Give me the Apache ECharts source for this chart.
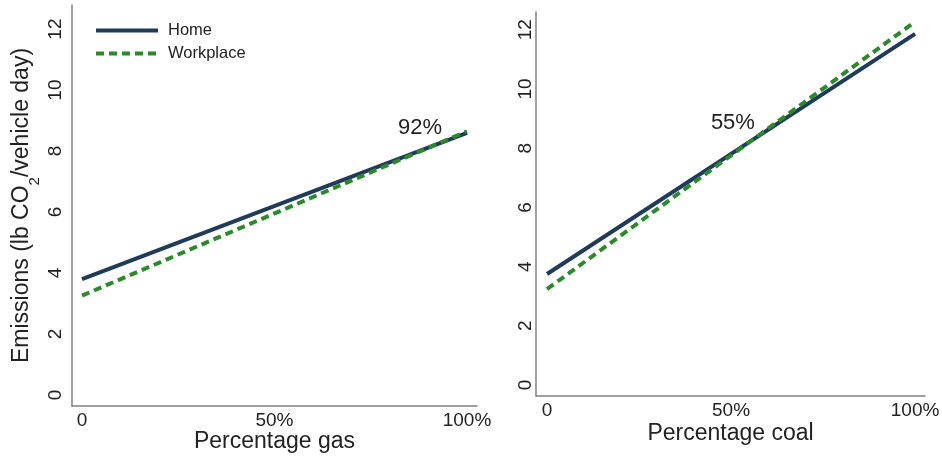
<!DOCTYPE html>
<html>
<head>
<meta charset="utf-8">
<script src="https://cdn.jsdelivr.net/npm/echarts@6/dist/echarts.min.js"></script>
<style>
  html, body { margin: 0; padding: 0; background: #fff; }
  #chart { width: 942px; height: 457px; }
</style>
</head>
<body>
<div id="chart"></div>
<script>
  // shares of gas / coal in the grid mix (x, percent)
  const shareX = [0, 100];
  const xTicks = [0, 50, 100];
  const yTicks = [0, 2, 4, 6, 8, 10, 12];

  // emissions, lb CO2 per vehicle day
  const gasHome = [3.80, 8.60];
  const gasWork = [3.26, 8.65];
  const coalHome = [3.75, 11.86];
  const coalWork = [3.24, 12.27];

  // crossing labels [x, y, text]
  const gasNote = [87.8, 8.75, '92%'];
  const coalNote = [50.5, 8.85, '55%'];

  const FONT = 'Liberation Sans';
  const TXT = '#222';
  const AXIS = '#808080';
  const HOME = '#1f3b5a';
  const WORK = '#2a8a2a';

  const pairs = (xs, ys) => xs.map((x, i) => [x, ys[i]]);

  function xAxis(idx, min, max, name, gap) {
    return {
      type: 'value', gridIndex: idx, min: min, max: max,
      name: name, nameLocation: 'middle', nameGap: gap, nameMoveOverlap: false,
      nameTextStyle: { fontFamily: FONT, fontSize: 23, color: TXT },
      axisLine: { show: true, onZero: false, lineStyle: { color: AXIS, width: 1.5 } },
      axisTick: { show: false },
      splitLine: { show: false },
      axisLabel: {
        customValues: xTicks, margin: 5,
        fontFamily: FONT, fontSize: 19, color: TXT,
        formatter: v => v === 0 ? '0' : v + '%'
      }
    };
  }

  function yAxis(idx, min, max, margin) {
    return {
      type: 'value', gridIndex: idx, min: min, max: max,
      axisLine: { show: true, onZero: false, lineStyle: { color: AXIS, width: 1.5 } },
      axisTick: { show: false },
      splitLine: { show: false },
      axisLabel: {
        customValues: yTicks, rotate: 90, margin: margin,
        fontFamily: FONT, fontSize: 19, color: TXT
      }
    };
  }

  function line(name, idx, ys, color, dashed) {
    return {
      name: name, type: 'line', xAxisIndex: idx, yAxisIndex: idx,
      data: pairs(shareX, ys), symbol: 'none', animation: false,
      lineStyle: { color: color, width: 4, type: dashed ? [8, 5] : 'solid' },
      itemStyle: { color: color }
    };
  }

  function note(idx, n) {
    return {
      type: 'scatter', xAxisIndex: idx, yAxisIndex: idx,
      data: [[n[0], n[1]]], symbolSize: 0, silent: true, animation: false,
      itemStyle: { opacity: 1 },
      label: {
        show: true, position: 'inside', formatter: n[2],
        fontFamily: FONT, fontSize: 22, color: TXT
      }
    };
  }

  const chart = echarts.init(document.getElementById('chart'));

  const ax1 = yAxis(0, -0.36, 12.79, 7);
  ax1.name = '{a|Emissions (lb CO}{s|2}{a|/vehicle day)}';
  ax1.nameLocation = 'middle';
  ax1.nameGap = 36;
  ax1.nameTextStyle = {
    rich: {
      a: { fontFamily: FONT, fontSize: 23, color: TXT, lineHeight: 28 },
      s: { fontFamily: FONT, fontSize: 15, color: TXT, lineHeight: 28, verticalAlign: 'bottom', padding: [0, 0, -6, 0] }
    }
  };

  chart.setOption({
    backgroundColor: '#fff',
    grid: [
      { left: 72, right: 465, top: 5, bottom: 51, outerBoundsMode: 'none', containLabel: false },
      { left: 536, right: 17, top: 12, bottom: 61, outerBoundsMode: 'none', containLabel: false }
    ],
    legend: {
      data: ['Home', 'Workplace'],
      orient: 'vertical', left: 89, top: 17,
      itemWidth: 62, itemHeight: 14, itemGap: 6,
      itemStyle: { color: 'transparent', borderWidth: 0 },
      lineStyle: { width: 4 },
      textStyle: { fontFamily: FONT, fontSize: 16.5, color: TXT, padding: [0, 0, 0, 5] }
    },
    xAxis: [
      xAxis(0, -2.6, 102.6, 'Percentage gas', 24),
      xAxis(1, -3.0, 102.7, 'Percentage coal', 26)
    ],
    yAxis: [ax1, yAxis(1, -0.37, 12.6, 1)],
    series: [
      line('Home', 0, gasHome, HOME, false),
      line('Workplace', 0, gasWork, WORK, true),
      line('Home', 1, coalHome, HOME, false),
      line('Workplace', 1, coalWork, WORK, true),
      note(0, gasNote),
      note(1, coalNote)
    ]
  });
</script>
</body>
</html>
